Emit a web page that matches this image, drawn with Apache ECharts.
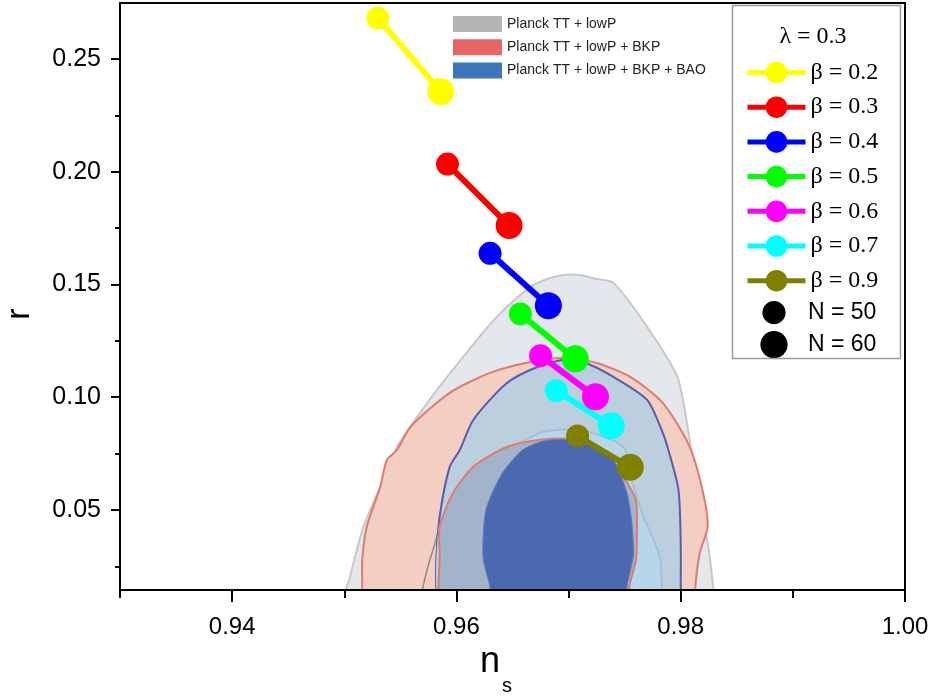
<!DOCTYPE html>
<html><head><meta charset="utf-8">
<script src="https://cdn.jsdelivr.net/npm/echarts@6/dist/echarts.min.js"></script>
<style>html,body{margin:0;padding:0;background:#fff}#c{width:934px;height:697px}</style>
</head><body><div id="c"></div>
<script>
// ---- data ----
const betaNames = ['β = 0.2','β = 0.3','β = 0.4','β = 0.5','β = 0.6','β = 0.7','β = 0.9'];
const betaColors = ['#ffff00','#ff0000','#0000ff','#00ff00','#ff00ff','#00ffff','#808000'];
const ns50 = [0.9530,0.9592,0.9630,0.9657,0.9675,0.9689,0.9708];
const r50  = [0.2681,0.2034,0.1638,0.1369,0.1184,0.1029,0.0828];
const ns60 = [0.9586,0.9647,0.9682,0.9706,0.9724,0.9738,0.9755];
const r60  = [0.2355,0.1761,0.1406,0.1170,0.1002,0.0873,0.0689];
const nLabels = ['N = 50','N = 60'];
const lambdaLabel = 'λ = 0.3';
const datasetNames = ['Planck TT + lowP','Planck TT + lowP + BKP','Planck TT + lowP + BKP + BAO'];
const datasetColors = ['#b4b4b4','#e86565','#3c77bd'];

const contourG95 = [[0.9499,0.005],[0.9505,0.020],[0.9510,0.030],[0.9517,0.0425],[0.9532,0.0602],[0.9547,0.0779],[0.9576,0.0988],[0.9606,0.1179],[0.9636,0.1356],[0.9666,0.1489],[0.9681,0.1524],[0.9695,0.1542],[0.9710,0.1542],[0.9725,0.1524],[0.9740,0.1507],[0.9770,0.1312],[0.9797,0.1090],[0.9807,0.0842],[0.9815,0.0575],[0.9824,0.0354],[0.9829,0.0154],[0.9830,0.005]];
const contourR95 = [[0.9516,0.005],[0.9516,0.0154],[0.9516,0.0278],[0.9520,0.0425],[0.9532,0.0602],[0.9538,0.0722],[0.9547,0.0766],[0.9559,0.0868],[0.9594,0.1019],[0.9630,0.1108],[0.9666,0.1156],[0.9695,0.1174],[0.9725,0.1152],[0.9755,0.1090],[0.9784,0.0975],[0.9808,0.0780],[0.9820,0.0575],[0.9824,0.0425],[0.9817,0.0309],[0.9813,0.0154],[0.9813,0.005]];
const contourG68 = [[0.9567,0.005],[0.9570,0.0154],[0.9575,0.0256],[0.9581,0.0354],[0.9585,0.0425],[0.9599,0.0567],[0.9619,0.0686],[0.9648,0.0775],[0.9677,0.0846],[0.9710,0.0855],[0.9749,0.0779],[0.9757,0.0620],[0.9768,0.0456],[0.9777,0.0354],[0.9782,0.0278],[0.9783,0.0154],[0.9783,0.005]];
const contourB95 = [[0.9582,0.005],[0.9582,0.0154],[0.9582,0.0273],[0.9585,0.0469],[0.9594,0.0691],[0.9603,0.0766],[0.9615,0.0899],[0.9645,0.1063],[0.9672,0.1134],[0.9695,0.1165],[0.9713,0.1156],[0.9740,0.1090],[0.9770,0.0988],[0.9784,0.0842],[0.9789,0.0766],[0.9798,0.0589],[0.9800,0.0350],[0.9800,0.0154],[0.9800,0.005]];
const contourR68 = [[0.9584,0.005],[0.9584,0.0154],[0.9585,0.0300],[0.9585,0.0425],[0.9597,0.0575],[0.9615,0.0691],[0.9645,0.0779],[0.9677,0.0812],[0.9701,0.0812],[0.9725,0.0766],[0.9737,0.0722],[0.9749,0.0646],[0.9760,0.0544],[0.9761,0.0398],[0.9760,0.0278],[0.9754,0.0154],[0.9754,0.005]];
const contourB68 = [[0.9630,0.005],[0.9630,0.0154],[0.9624,0.0278],[0.9624,0.0398],[0.9627,0.0513],[0.9641,0.0664],[0.9659,0.0766],[0.9677,0.0805],[0.9695,0.0812],[0.9719,0.0789],[0.9740,0.0722],[0.9752,0.0575],[0.9756,0.0460],[0.9758,0.0309],[0.9756,0.0250],[0.9752,0.0154],[0.9752,0.005]];

const xRange = [0.93, 1.00];
const yRange = [0.0145, 0.2748];
const xLabelTicks = [0.94,0.96,0.98,1.00];
const xMinorTicks = [0.93,0.95,0.97,0.99];
const yLabelTicks = [0.05,0.10,0.15,0.20,0.25];
const yMinorTicks = [0.025,0.075,0.125,0.175,0.225];

// ---- chart ----
const chart = echarts.init(document.getElementById('c'), null, {renderer:'canvas'});
const SANS = 'Liberation Sans, Arial, sans-serif';
const SERIF = 'Liberation Serif, Times New Roman, serif';

function polySeries(name, pts, fill, stroke, lw, clipPts, z){
  return {
    type:'custom', name, coordinateSystem:'cartesian2d', xAxisIndex:0, yAxisIndex:0,
    data:[0], silent:true, clip:true, z: z, animation:false,
    renderItem(params, api){
      const cs = params.coordSys;
      const P = pts.map(p=>api.coord(p));
      const el = {type:'polygon', shape:{points:P, smooth:0.25}, style:{fill:fill, stroke:stroke, lineWidth:lw}};
      if (clipPts) el.clipPath = {type:'polygon', shape:{points:clipPts.map(p=>api.coord(p)), smooth:0.25}};
      return {type:'group', clipPath:{type:'rect', shape:{x:cs.x, y:cs.y, width:cs.width, height:cs.height}}, children:[el]};
    }
  };
}

const series = [
  polySeries(datasetNames[0], contourG95, '#e4e7eb', '#c8c8c8', 2, null, 1),
  polySeries(datasetNames[1], contourR95, '#f2cec3', '#e07b6e', 2, null, 1),
  polySeries(datasetNames[0], contourG68, 'none', '#8d8d8d', 1.5, null, 1),
  polySeries(datasetNames[2], contourB95, '#bccfdf', '#5a5aae', 2, null, 1),
  polySeries(datasetNames[0], contourG68, '#b7d6e9', '#a4c0d3', 2, contourB95, 1),
  polySeries(datasetNames[1], contourR68, '#a3b3ca', '#e07b6e', 2, null, 1),
  polySeries(datasetNames[2], contourB68, '#4a69b1', '#5a7cc0', 1, null, 1)
];
betaNames.forEach((nm,i)=>{
  series.push({
    type:'line', name:nm, z:5, animation:false,
    data:[[ns50[i], r50[i]], [ns60[i], r60[i]]],
    symbol:'circle', showSymbol:true,
    symbolSize:(v,p)=> p.dataIndex===0 ? 23 : 27,
    lineStyle:{width:6, color:betaColors[i]},
    itemStyle:{color:betaColors[i]}
  });
});
nLabels.forEach(nm=>{
  series.push({type:'line', name:nm, data:[], symbol:'circle', itemStyle:{color:'#000'}, lineStyle:{width:0, opacity:0}});
});

const tickStyle = {color:'#000', width:2};
const option = {
  animation:false,
  textStyle:{fontFamily:SANS},
  grid:{left:120, top:3, width:785, height:587, show:true, borderColor:'#000', borderWidth:2, backgroundColor:'transparent'},
  xAxis:[
    {type:'value', min:xRange[0], max:xRange[1], position:'bottom', z:10,
     axisLine:{show:true, onZero:false, lineStyle:{color:'#000', width:2}},
     axisTick:{show:true, customValues:xLabelTicks, length:12, lineStyle:tickStyle},
     axisLabel:{show:true, customValues:xLabelTicks, formatter:v=>(+v).toFixed(2), fontSize:24, fontFamily:SANS, color:'#000', margin:25},
     splitLine:{show:false}},
    {type:'value', min:xRange[0], max:xRange[1], position:'bottom', z:10,
     axisLine:{show:false, onZero:false},
     axisTick:{show:true, customValues:xMinorTicks, length:8, lineStyle:tickStyle},
     axisLabel:{show:false}, splitLine:{show:false}}
  ],
  yAxis:[
    {type:'value', min:yRange[0], max:yRange[1], position:'left', z:10,
     axisLine:{show:true, onZero:false, lineStyle:{color:'#000', width:2}},
     axisTick:{show:true, customValues:yLabelTicks, length:9, lineStyle:tickStyle},
     axisLabel:{show:true, customValues:yLabelTicks, formatter:v=>(+v).toFixed(2), fontSize:25, fontFamily:SANS, color:'#000', margin:19},
     splitLine:{show:false}},
    {type:'value', min:yRange[0], max:yRange[1], position:'left', z:10,
     axisLine:{show:false, onZero:false},
     axisTick:{show:true, customValues:yMinorTicks, length:5, lineStyle:tickStyle},
     axisLabel:{show:false}, splitLine:{show:false}}
  ],
  legend:[
    {data:datasetNames.map((n,i)=>({name:n, icon:'rect', itemStyle:{color:datasetColors[i], borderWidth:0}})),
     orient:'vertical', left:453, top:16, padding:0, itemWidth:49, itemHeight:16, itemGap:7.3, selectedMode:false,
     textStyle:{fontFamily:SANS, fontSize:14, color:'#222'}},
    {data:betaNames, orient:'vertical', left:745, top:60.5, padding:0, itemWidth:58, itemHeight:27, itemGap:10.7, selectedMode:false,
     lineStyle:{width:5}, textStyle:{fontFamily:SERIF, fontSize:24, color:'#000'}},
    {data:[{name:nLabels[0], lineStyle:{opacity:0, width:0}, itemStyle:{color:'#000'}}], orient:'vertical', left:745, top:301, padding:0, itemWidth:58, itemHeight:29, selectedMode:false,
     textStyle:{fontFamily:SANS, fontSize:23, color:'#000'}},
    {data:[{name:nLabels[1], lineStyle:{opacity:0, width:0}, itemStyle:{color:'#000'}}], orient:'vertical', left:745, top:331, padding:0, itemWidth:58, itemHeight:34, selectedMode:false,
     textStyle:{fontFamily:SANS, fontSize:23, color:'#000'}}
  ],
  graphic:[
    {type:'rect', shape:{x:732.5, y:5.5, width:168, height:353}, style:{fill:'none', stroke:'#9a9a9a', lineWidth:1.5}, z:100, silent:true},
    {type:'text', x:813, y:37, style:{text:lambdaLabel, font:'24px '+SERIF, fill:'#000', textAlign:'center', textVerticalAlign:'middle'}, z:100},
    {type:'text', x:490, y:662, style:{text:'n', font:'36px '+SANS, fill:'#000', textAlign:'center', textVerticalAlign:'middle'}, z:100},
    {type:'text', x:507, y:686, style:{text:'s', font:'20px '+SANS, fill:'#000', textAlign:'center', textVerticalAlign:'middle'}, z:100},
    {type:'text', x:20, y:314, rotation:Math.PI/2, style:{text:'r', font:'34px '+SANS, fill:'#000', textAlign:'center', textVerticalAlign:'middle'}, z:100}
  ],
  series
};
chart.setOption(option);
</script>
</body></html>
